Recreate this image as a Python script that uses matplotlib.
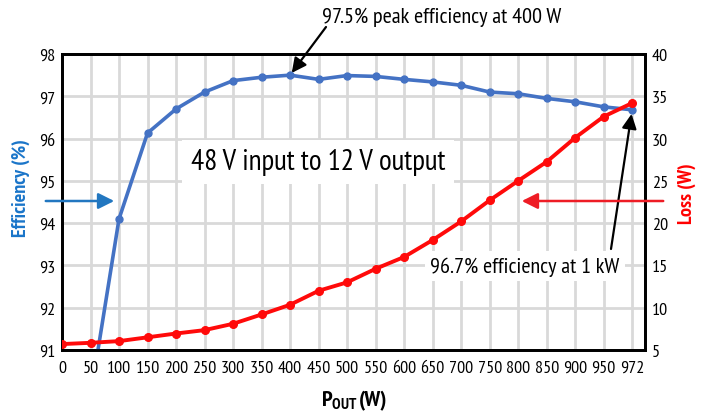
import matplotlib
matplotlib.use("Agg")
import matplotlib.pyplot as plt
import numpy as np
from matplotlib import font_manager

names = {f.name for f in font_manager.fontManager.ttflist}
prefs = ['PT Sans Narrow', 'Fira Sans Condensed', 'Roboto Condensed', 'Liberation Sans Narrow']
FONT = next((p for p in prefs if p in names), 'DejaVu Sans')
plt.rcParams['font.family'] = [FONT, 'DejaVu Sans']
plt.rcParams['mathtext.fontset'] = 'custom'
plt.rcParams['mathtext.bf'] = FONT + ':bold'
plt.rcParams['mathtext.rm'] = FONT

# ---- data ----
power_labels = ['0', '50', '100', '150', '200', '250', '300', '350', '400', '450', '500',
                '550', '600', '650', '700', '750', '800', '850', '900', '950', '972']
efficiency = [np.nan, 89.9, 94.1, 96.13, 96.7, 97.1, 97.37, 97.45, 97.5, 97.4, 97.49,
              97.47, 97.4, 97.34, 97.26, 97.1, 97.06, 96.95, 96.87, 96.75, 96.68]
loss = [5.7, 5.85, 6.05, 6.5, 6.95, 7.35, 8.1, 9.2, 10.35, 12.0, 13.0,
        14.6, 16.0, 18.0, 20.2, 22.7, 25.0, 27.25, 30.1, 32.6, 34.2]
eff_ticks = [91, 92, 93, 94, 95, 96, 97, 98]
loss_ticks = [5, 10, 15, 20, 25, 30, 35, 40]

BLUE = '#4472C4'
RED = '#FF0A0A'
LBLUE = '#1A75C9'
LRED = '#FF0000'

W, H = 705, 414
fig = plt.figure(figsize=(W / 100, H / 100), dpi=100)
ax = fig.add_axes([62 / W, 1 - 351 / H, (645 - 62) / W, (351 - 55) / H])
ax2 = ax.twinx()

x = np.arange(len(power_labels))
ax.set_xlim(0, 20.45)
ax.set_ylim(91, 98)
ax2.set_ylim(5, 40)
ax.set_xticks(x)
ax.set_xticklabels(power_labels)
ax.set_yticks(eff_ticks)
ax2.set_yticks(loss_ticks)

ax.grid(True, color='#d9d9d9', lw=2)
ax.set_axisbelow(True)
for a in (ax, ax2):
    for s in a.spines.values():
        s.set_linewidth(2)
        s.set_color('black')
    a.tick_params(length=0, labelsize=13, pad=5)
ax.tick_params(axis='x', pad=7)

ax.plot(x, efficiency, color=BLUE, lw=2.6, marker='o', ms=5, zorder=3)
ax2.plot(x, loss, color=RED, lw=2.8, marker='o', ms=5.5, zorder=3)

# ---- labels ----
fig.text(21 / W, 1 - 188 / H, 'Efficiency (%)', rotation=90, ha='center', va='center',
         color=LBLUE, fontsize=14.5, fontweight='bold')
fig.text(687 / W, 1 - 194 / H, 'Loss (W)', rotation=90, ha='center', va='center',
         color=LRED, fontsize=14.5, fontweight='bold')
fig.text(358 / W, 1 - 401 / H, r'$\mathbf{P}_{\mathbf{OUT}}$', ha='right', va='center',
         fontsize=16)
fig.text(359 / W, 1 - 401 / H, '(W)', ha='left', va='center', fontsize=16,
         fontweight='bold')

# ---- annotations ----
fig.text(442 / W, 1 - 17 / H, '97.5% peak efficiency at 400 W', ha='center', va='center',
         fontsize=16)
ax.annotate('', xy=(8, 97.5), xytext=(326 / W, 1 - 28 / H), textcoords='figure fraction',
            arrowprops=dict(arrowstyle='-|>', mutation_scale=22, lw=1.6, color='black',
                            shrinkA=0, shrinkB=2), annotation_clip=False)

fig.text(318 / W, 1 - 163 / H, '48 V input to 12 V output', ha='center', va='center',
         fontsize=21, bbox=dict(boxstyle='square,pad=0.3', fc='white', ec='none'), zorder=5)

ax.annotate('', xy=(20, 96.68), xytext=(611 / W, 1 - 250 / H), textcoords='figure fraction',
            arrowprops=dict(arrowstyle='-|>', mutation_scale=22, lw=1.6, color='black',
                            shrinkA=0, shrinkB=3), annotation_clip=False, zorder=6)
fig.text(525 / W, 1 - 267 / H, '96.7% efficiency at 1 kW', ha='center', va='center',
         fontsize=16, bbox=dict(boxstyle='square,pad=0.25', fc='white', ec='none'), zorder=5)

fig.add_artist(matplotlib.patches.FancyArrowPatch(
    (43 / W, 1 - 202 / H), (117 / W, 1 - 202 / H), transform=fig.transFigure,
    arrowstyle='-|>', mutation_scale=24, lw=1.8, color='#2277C0'))
fig.add_artist(matplotlib.patches.FancyArrowPatch(
    (666 / W, 1 - 202 / H), (519 / W, 1 - 202 / H), transform=fig.transFigure,
    arrowstyle='-|>', mutation_scale=24, lw=1.8, color='#EE1C25'))

fig.savefig('out.png', dpi=100)
